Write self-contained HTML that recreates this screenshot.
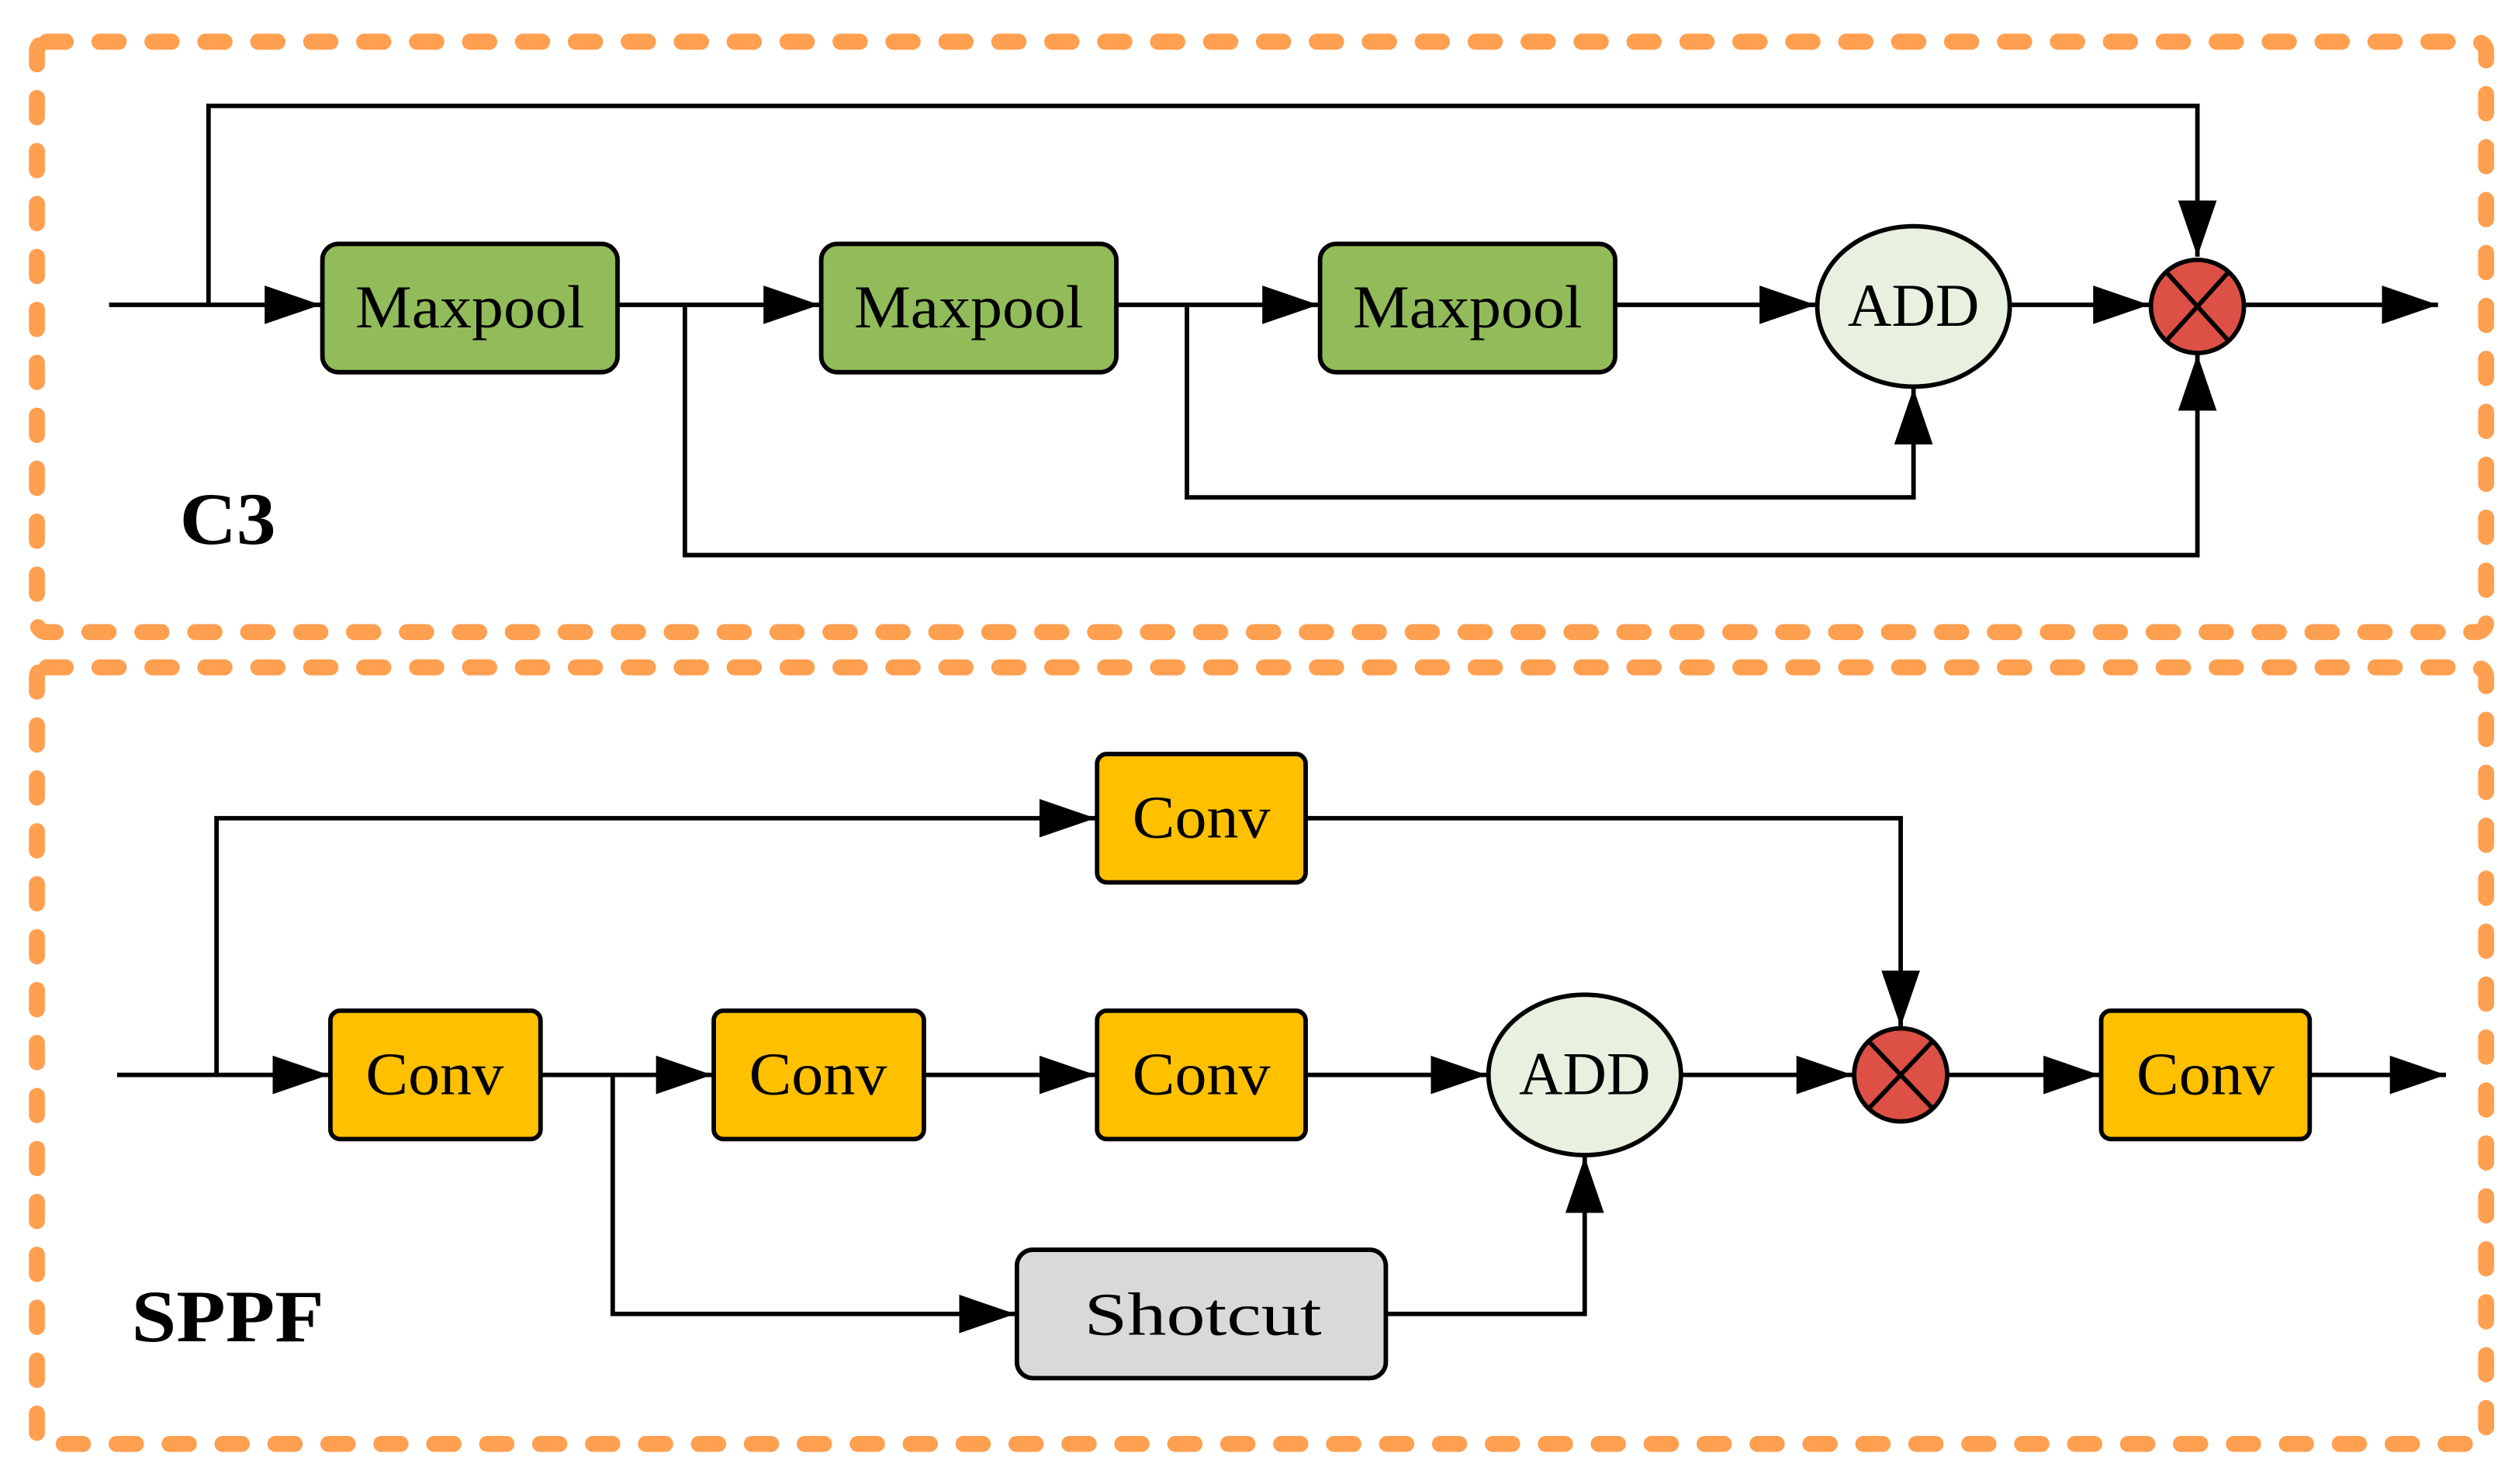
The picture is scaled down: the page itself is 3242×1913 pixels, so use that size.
<!DOCTYPE html>
<html><head><meta charset="utf-8"><style>
html,body{margin:0;padding:0;background:#fff;}
svg{display:block;}
text{font-family:"Liberation Serif",serif;}
</style></head><body>
<svg width="3242" height="1913" viewBox="0 0 1568 925" preserveAspectRatio="none" xmlns="http://www.w3.org/2000/svg">
<defs>
<marker id="a" markerUnits="userSpaceOnUse" markerWidth="36" markerHeight="26" refX="35" refY="12" orient="auto">
<polygon points="0,0 35,12 0,24" fill="#000"/>
</marker>
</defs>
<g fill="none" stroke="#FF9F50" stroke-width="10" stroke-linecap="round" stroke-dasharray="12 21">
<rect x="23" y="26" width="1527" height="368" rx="6"/>
<rect x="23" y="416" width="1527" height="484" rx="6"/>
</g>
<g stroke="#000" stroke-width="2.8" fill="none">
<polyline points="68,190 200,190" marker-end="url(#a)"/>
<polyline points="130,190 130,66 1370,66 1370,160" marker-end="url(#a)"/>
<polyline points="385,190 511,190" marker-end="url(#a)"/>
<polyline points="696,190 822,190" marker-end="url(#a)"/>
<polyline points="1007,190 1132,190" marker-end="url(#a)"/>
<polyline points="1253,190 1340,190" marker-end="url(#a)"/>
<polyline points="1400,190 1520,190" marker-end="url(#a)"/>
<polyline points="427,190 427,346 1370,346 1370,221" marker-end="url(#a)"/>
<polyline points="740,190 740,310 1193,310 1193,242" marker-end="url(#a)"/>
<polyline points="73,670 205,670" marker-end="url(#a)"/>
<polyline points="135,670 135,510 683,510" marker-end="url(#a)"/>
<polyline points="814,510 1185,510 1185,640" marker-end="url(#a)"/>
<polyline points="337,670 444,670" marker-end="url(#a)"/>
<polyline points="576,670 683,670" marker-end="url(#a)"/>
<polyline points="814,670 927,670" marker-end="url(#a)"/>
<polyline points="1048,670 1155,670" marker-end="url(#a)"/>
<polyline points="1214,670 1309,670" marker-end="url(#a)"/>
<polyline points="1440,670 1525,670" marker-end="url(#a)"/>
<polyline points="382,670 382,819 633,819" marker-end="url(#a)"/>
<polyline points="864,819 988,819 988,721" marker-end="url(#a)"/>
</g>
<g stroke="#000" stroke-width="2.8">
<rect x="201" y="152" width="184" height="80" rx="10" fill="#92BB5A"/>
<rect x="512" y="152" width="184" height="80" rx="10" fill="#92BB5A"/>
<rect x="823" y="152" width="184" height="80" rx="10" fill="#92BB5A"/>
<ellipse cx="1193" cy="191" rx="60" ry="50" fill="#E8F1DF"/>
<ellipse cx="1370" cy="191" rx="29" ry="29" fill="#DC5046"/>
<line x1="1351" y1="170" x2="1389" y2="212"/><line x1="1389" y1="170" x2="1351" y2="212"/>
<rect x="684" y="470" width="130" height="80" rx="6" fill="#FFC000"/>
<rect x="206" y="630" width="131" height="80" rx="6" fill="#FFC000"/>
<rect x="445" y="630" width="131" height="80" rx="6" fill="#FFC000"/>
<rect x="684" y="630" width="130" height="80" rx="6" fill="#FFC000"/>
<rect x="1310" y="630" width="130" height="80" rx="6" fill="#FFC000"/>
<ellipse cx="988" cy="670" rx="60" ry="50" fill="#E8F1DF"/>
<ellipse cx="1185" cy="670" rx="29" ry="29" fill="#DC5046"/>
<line x1="1166" y1="650" x2="1204" y2="690"/><line x1="1204" y1="650" x2="1166" y2="690"/>
<rect x="634" y="779" width="230" height="80" rx="10" fill="#D9D9D9"/>
</g>
<g font-size="38" text-anchor="middle" fill="#000" lengthAdjust="spacingAndGlyphs">
<text x="293" y="204" textLength="143" lengthAdjust="spacingAndGlyphs">Maxpool</text>
<text x="604" y="204" textLength="143" lengthAdjust="spacingAndGlyphs">Maxpool</text>
<text x="915" y="204" textLength="143" lengthAdjust="spacingAndGlyphs">Maxpool</text>
<text x="1193" y="203" textLength="82" lengthAdjust="spacingAndGlyphs">ADD</text>
<text x="749" y="522" textLength="86" lengthAdjust="spacingAndGlyphs">Conv</text>
<text x="271" y="682" textLength="86" lengthAdjust="spacingAndGlyphs">Conv</text>
<text x="510" y="682" textLength="86" lengthAdjust="spacingAndGlyphs">Conv</text>
<text x="749" y="682" textLength="86" lengthAdjust="spacingAndGlyphs">Conv</text>
<text x="1375" y="682" textLength="86" lengthAdjust="spacingAndGlyphs">Conv</text>
<text x="988" y="682" textLength="82" lengthAdjust="spacingAndGlyphs">ADD</text>
<text x="750" y="832" textLength="148" lengthAdjust="spacingAndGlyphs">Shotcut</text>
</g>
<text x="112" y="339" font-size="46" font-weight="bold" textLength="60" lengthAdjust="spacingAndGlyphs">C3</text>
<text x="82" y="836" font-size="46" font-weight="bold" textLength="120" lengthAdjust="spacingAndGlyphs">SPPF</text>
</svg>
</body></html>
